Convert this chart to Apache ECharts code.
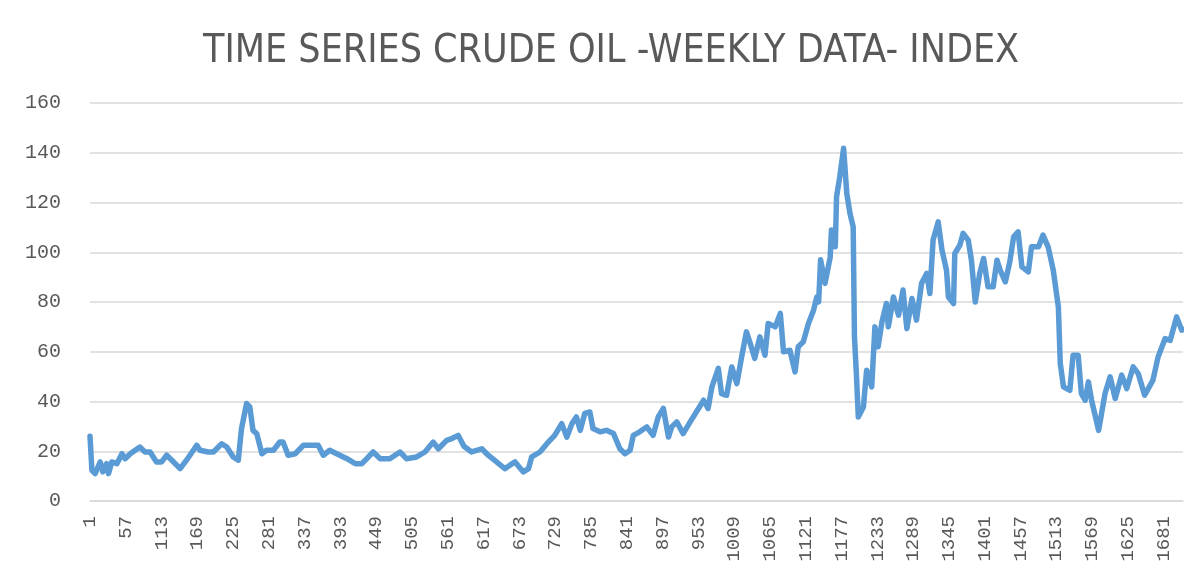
<!DOCTYPE html>
<html>
<head>
<meta charset="utf-8">
<script src="https://cdn.jsdelivr.net/npm/echarts@6/dist/echarts.min.js"></script>
<style>
  html, body { margin: 0; padding: 0; background: #fff; }
  #main { width: 1184px; height: 572px; }
</style>
</head>
<body>
<div id="main"></div>
<script>
// week numbers (1-based) of points
const weekNo = [
  1, 4, 9, 17, 21, 27, 30, 35, 43, 51, 56, 64, 79, 87, 95, 105, 113, 121, 129, 142,
  152, 168, 173, 186, 194, 207, 215, 225, 233, 238, 246, 251, 256, 262, 270, 277, 288, 298, 303, 311,
  322, 335, 348, 358, 366, 376, 387, 403, 416, 426, 434, 444, 455, 470, 486, 496, 512, 525, 538, 546,
  559, 567, 577, 586, 598, 614, 624, 637, 650, 658, 666, 679, 687, 692, 705, 718, 728, 739, 747, 755,
  762, 768, 775, 783, 788, 799, 809, 820, 830, 838, 846, 851, 861, 872, 882, 890, 898, 906, 911, 919,
  929, 940, 953, 961, 968, 974, 984, 989, 997, 1005, 1013, 1021, 1028, 1034, 1041, 1049, 1057, 1062, 1073, 1081,
  1086, 1096, 1104, 1109, 1117, 1125, 1133, 1138, 1141, 1144, 1151, 1159, 1161, 1167, 1169, 1174, 1180, 1182, 1185, 1190,
  1195, 1197, 1200, 1203, 1211, 1216, 1224, 1229, 1234, 1240, 1247, 1250, 1258, 1266, 1273, 1279, 1287, 1294, 1302, 1310,
  1315, 1320, 1328, 1334, 1341, 1344, 1352, 1354, 1362, 1367, 1375, 1380, 1386, 1393, 1399, 1406, 1414, 1420, 1425, 1433,
  1440, 1446, 1453, 1459, 1469, 1474, 1485, 1492, 1500, 1508, 1516, 1519, 1524, 1534, 1539, 1547, 1552, 1558, 1563, 1568,
  1579, 1589, 1597, 1605, 1615, 1623, 1633, 1641, 1651, 1664, 1672, 1683, 1691, 1701, 1709, 1711
];
const price = [
  26, 12.3, 11, 15.7, 11.7, 15, 11, 15.7, 15, 19, 17, 19, 21.7, 19.7, 19.7, 15.7, 15.7, 18.4, 16.4, 13,
  16.4, 22.4, 20.4, 19.7, 19.7, 23, 21.7, 17.7, 16.4, 29, 39.2, 37.8, 28.4, 27, 19, 20.4, 20.4, 23.7, 23.7, 18.4,
  19, 22.4, 22.4, 22.4, 18.4, 20.4, 19, 17, 15, 15, 17, 19.7, 17, 17, 19.7, 17, 17.7, 19.7, 23.7, 21,
  24.4, 25.1, 26.4, 22, 19.7, 21, 18.4, 15.7, 13, 14.4, 15.7, 11.7, 13, 17.7, 19.7, 23.7, 26.4, 31.1, 25.7, 31.1,
  33.8, 28.4, 35.2, 35.8, 29.1, 27.8, 28.4, 27.1, 21, 19, 20.4, 26.4, 27.8, 29.8, 26.4, 33.8, 37.2, 25.7, 29.8, 31.8,
  27.1, 31.8, 37.2, 40.5, 37.2, 45.9, 53.3, 43.2, 42.5, 53.9, 47.2, 58.6, 68, 63.3, 57.3, 66, 58.6, 71.4, 70, 75.4,
  60, 60.6, 51.9, 62, 64, 71.4, 76.7, 82, 80, 97, 87.5, 98, 108.9, 102.2, 122.3, 130.3, 141.8, 141.8, 123.6, 115.6,
  110.2, 66, 51.2, 33.8, 37.8, 52.6, 45.9, 70, 62, 72, 79.4, 70, 82, 74.7, 84.8, 69.3, 81.4, 72.7, 87.5, 91.5,
  83.4, 104.9, 112.2, 100.8, 92.8, 82, 79.4, 99.5, 102.9, 107.6, 104.9, 96.8, 80, 91.5, 97.5, 86.1, 86.1, 96.8, 92.8, 88.1,
  96.1, 106.2, 108.2, 94.1, 92.1, 102.2, 102.2, 106.9, 102.2, 92.8, 78, 55.3, 45.9, 44.5, 58.6, 58.6, 43.2, 40.5, 47.9, 40.5,
  28.4, 43.2, 49.9, 41.2, 50.6, 45.2, 53.9, 51.2, 42.5, 48.6, 57.9, 65.3, 64.6, 74, 68.7, 69
];
const weekCount = 1711;
const weekLabels = [];
for (let i = 1; i <= weekCount; i++) {
  weekLabels.push(String(i));
}

const chart = echarts.init(document.getElementById("main"));
const option = {
  animation: false,
  title: {
    text: "TIME SERIES CRUDE OIL -WEEKLY DATA- INDEX",
    left: 198,
    top: 27,
    textStyle: {
      fontFamily: "'Liberation Sans Narrow', 'DejaVu Sans Condensed', sans-serif",
      fontWeight: "normal",
      fontSize: 39,
      color: "#595959"
    }
  },
  grid: { left: 90, right: 1, top: 103, bottom: 71 },
  xAxis: {
    type: "category",
    boundaryGap: false,
    data: weekLabels,
    axisLine: { lineStyle: { color: "#d9d9d9", width: 1.5 } },
    axisTick: { show: false },
    axisLabel: {
      interval: 55,
      rotate: 90,
      margin: 15,
      fontFamily: "'Liberation Mono', monospace",
      fontSize: 19,
      color: "#595959"
    }
  },
  yAxis: {
    type: "value",
    min: 0,
    max: 160,
    interval: 20,
    axisLine: { show: false },
    axisTick: { show: false },
    splitLine: { lineStyle: { color: "#d9d9d9", width: 1.5 } },
    axisLabel: {
      margin: 29,
      fontFamily: "'Liberation Mono', monospace",
      fontSize: 20,
      color: "#595959"
    }
  },
  series: [
    {
      type: "line",
      data: weekNo.map((w, k) => [w - 1, price[k]]),
      showSymbol: false,
      lineStyle: { color: "#5b9bd5", width: 5.5, join: "round", cap: "round" },
      itemStyle: { color: "#5b9bd5" }
    }
  ]
};
chart.setOption(option);
</script>
</body>
</html>
